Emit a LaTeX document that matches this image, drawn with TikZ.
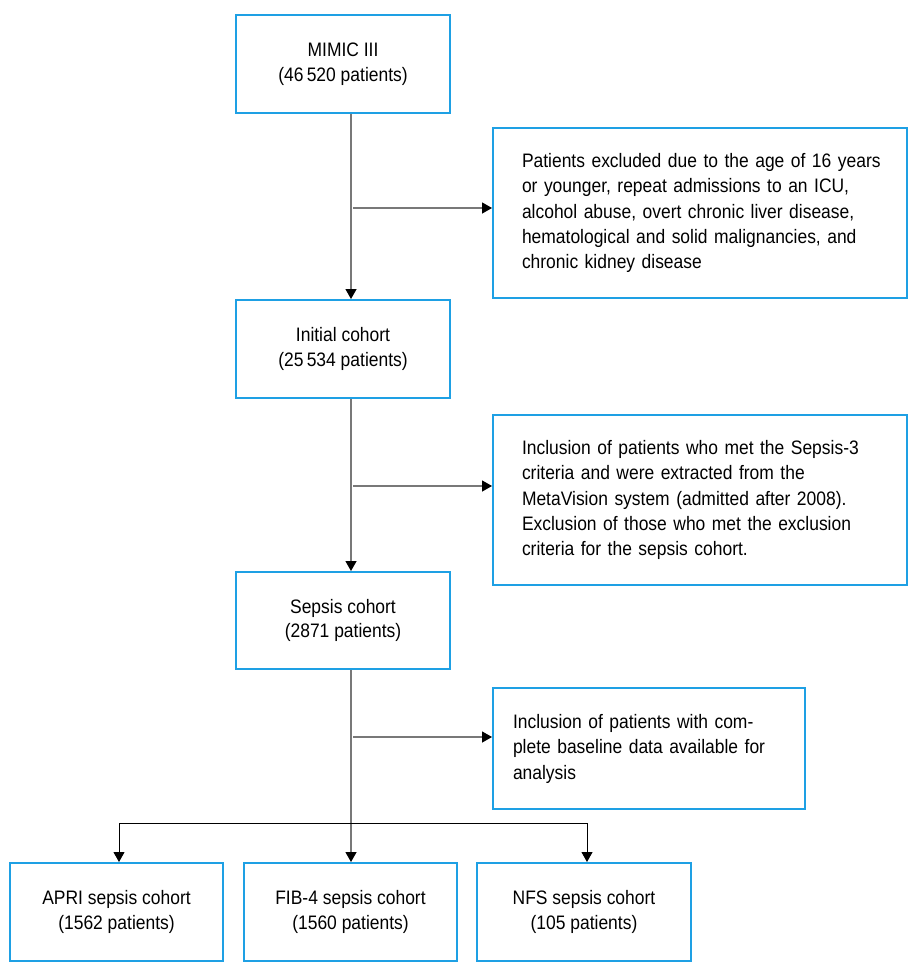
\documentclass[tikz,border=0pt]{standalone}
\usepackage{fontspec}
\setmainfont[FakeStretch=0.895]{Liberation Sans}
\usetikzlibrary{arrows.meta}
\definecolor{boxblue}{RGB}{30,160,228}
\definecolor{linegray}{RGB}{120,120,120}
\newcommand{\sidetext}[1]{\begin{tabular}{@{}l@{}}#1\end{tabular}}
\begin{document}
\begin{tikzpicture}[x=1pt,y=-1pt,
  every node/.style={font=\fontsize{19.5}{24.7}\selectfont},
  mainbox/.style={draw=boxblue,line width=2pt,minimum width=214pt,minimum height=97pt,align=center,inner sep=0pt},
  sidebox/.style={draw=boxblue,line width=2pt,align=left,anchor=center},
  conn/.style={draw=linegray,line width=1.3pt,-{Triangle[width=11pt,length=10pt,color=black]}},
  branch/.style={draw=black,line width=1pt}]
\useasboundingbox (0,0) rectangle (920,974);
\fill[white] (0,0) rectangle (920,974);
\renewcommand{\arraystretch}{1.03}
% main boxes
\node[mainbox] (mimic) at (343,64) {MIMIC III\\(46\,520 patients)};
\node[mainbox,minimum height=98pt] (initial) at (343,349) {Initial cohort\\(25\,534 patients)};
\node[mainbox] (sepsis) at (343,620.5) {Sepsis cohort\\(2871 patients)};
% side boxes
\node[sidebox,text width=356pt,inner xsep=29pt,minimum height=170pt] (ex1) at (700,213)
  {\sidetext{Patients excluded due to the age of 16 years\\or younger, repeat admissions to an ICU,\\alcohol abuse, overt chronic liver disease,\\hematological and solid malignancies, and\\chronic kidney disease}};
\node[sidebox,text width=356pt,inner xsep=29pt,minimum height=170pt] (ex2) at (700,500)
  {\sidetext{Inclusion of patients who met the Sepsis-3\\criteria and were extracted from the\\MetaVision system (admitted after 2008).\\Exclusion of those who met the exclusion\\criteria for the sepsis cohort.}};
\node[sidebox,text width=272pt,inner xsep=20pt,minimum height=121pt] (ex3) at (649,748.5)
  {\sidetext{Inclusion of patients with com-\\plete baseline data available for\\analysis}};
% bottom boxes
\node[mainbox,minimum width=213pt,minimum height=98pt] (apri) at (116.5,912) {APRI sepsis cohort\\(1562 patients)};
\node[mainbox,minimum width=213pt,minimum height=98pt] (fib) at (350.5,912) {FIB-4 sepsis cohort\\(1560 patients)};
\node[mainbox,minimum width=214pt,minimum height=98pt] (nfs) at (584,912) {NFS sepsis cohort\\(105 patients)};
% helper coordinates
\coordinate (trunk) at (351,0);
\coordinate (s1) at (353,208);
\coordinate (s2) at (353,486);
\coordinate (s3) at (353,737);
\coordinate (bl) at (119,823);
\coordinate (br) at (587,823);
% connectors
\draw[conn] (mimic.south -| trunk) -- (initial.north -| trunk);
\draw[conn] (initial.south -| trunk) -- (sepsis.north -| trunk);
\draw[conn] (sepsis.south -| trunk) -- (fib.north -| trunk);
\draw[conn] (s1) -- (s1 -| ex1.west);
\draw[conn] (s2) -- (s2 -| ex2.west);
\draw[conn] (s3) -- (s3 -| ex3.west);
\draw[branch] (bl) -- (br);
\draw[branch,-{Triangle[width=11pt,length=10pt]}] (bl) -- (bl |- apri.north);
\draw[branch,-{Triangle[width=11pt,length=10pt]}] (br) -- (br |- nfs.north);
\end{tikzpicture}
\end{document}
